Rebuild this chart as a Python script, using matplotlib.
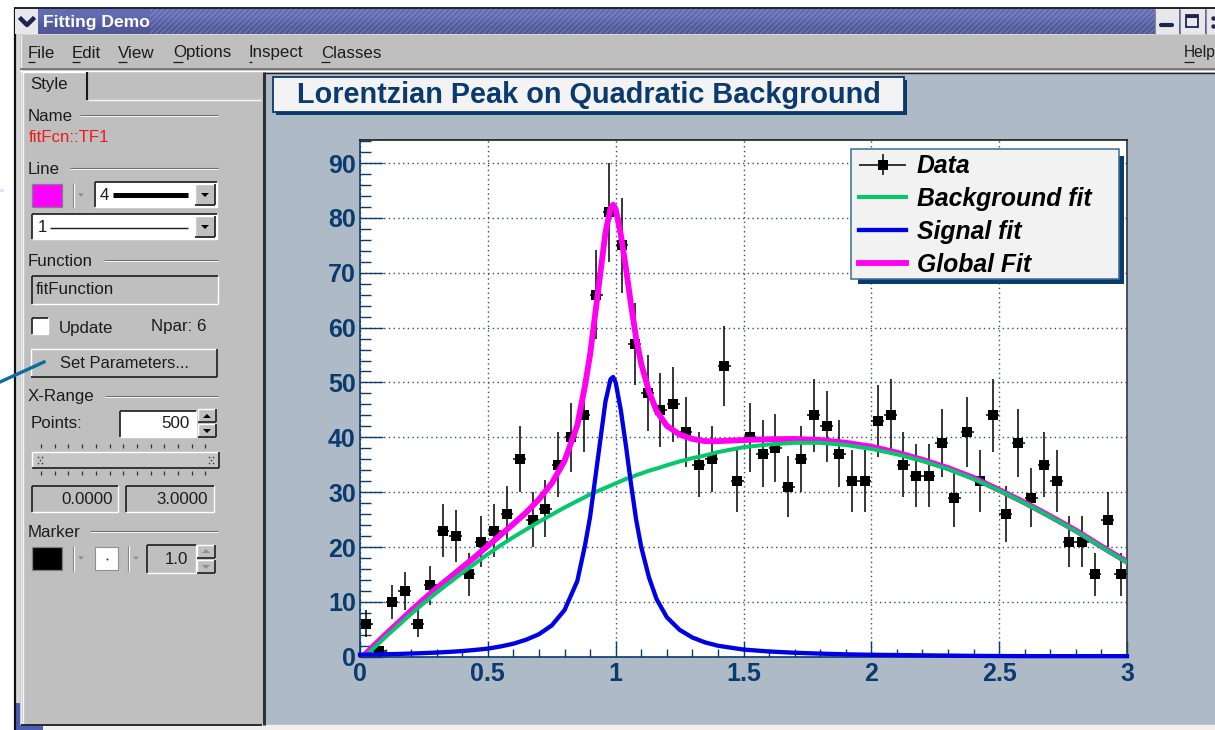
import matplotlib
matplotlib.use("Agg")
import matplotlib.pyplot as plt
from matplotlib.patches import Rectangle, Polygon
from matplotlib.container import ErrorbarContainer
from matplotlib.legend_handler import HandlerErrorbar
from matplotlib.ticker import MultipleLocator
import matplotlib.transforms as mtransforms
import numpy as np

# ------------------------------------------------------------------ data
bin_centers = [0.025, 0.075, 0.125, 0.175, 0.225, 0.275, 0.325, 0.375, 0.425, 0.475,
               0.525, 0.575, 0.625, 0.675, 0.725, 0.775, 0.825, 0.875, 0.925, 0.975,
               1.025, 1.075, 1.125, 1.175, 1.225, 1.275, 1.325, 1.375, 1.425, 1.475,
               1.525, 1.575, 1.625, 1.675, 1.725, 1.775, 1.825, 1.875, 1.925, 1.975,
               2.025, 2.075, 2.125, 2.175, 2.225, 2.275, 2.325, 2.375, 2.425, 2.475,
               2.525, 2.575, 2.625, 2.675, 2.725, 2.775, 2.825, 2.875, 2.925, 2.975]
counts = [6, 1, 10, 12, 6, 13, 23, 22, 15, 21,
          23, 26, 36, 25, 27, 35, 40, 44, 66, 81,
          75, 57, 48, 45, 46, 41, 35, 36, 53, 32,
          40, 37, 38, 31, 36, 44, 42, 37, 32, 32,
          43, 44, 35, 33, 33, 39, 29, 41, 32, 44,
          26, 39, 29, 35, 32, 21, 21, 15, 25, 15]
count_err = [2.45, 1.0, 3.16, 3.46, 2.45, 3.61, 4.80, 4.69, 3.87, 4.58,
             4.80, 5.10, 6.0, 5.0, 5.2, 5.92, 6.32, 6.63, 8.12, 9.0,
             8.66, 7.55, 6.93, 6.71, 6.78, 6.40, 5.92, 6.0, 7.28, 5.66,
             6.32, 6.08, 6.16, 5.57, 6.0, 6.63, 6.48, 6.08, 5.66, 5.66,
             6.56, 6.63, 5.92, 5.74, 5.74, 6.24, 5.39, 6.40, 5.66, 6.63,
             5.10, 6.24, 5.39, 5.92, 5.66, 4.58, 4.58, 3.87, 5.0, 3.87]
bin_half = [0.025] * 60

fit_x = [0, .05, .1, .15, .2, .25, .3, .35, .4, .45, .5, .55, .6, .65, .7, .75, .8, .85,
         .88, .9, .92, .94, .96, .98, .99, 1.0, 1.02, 1.04, 1.06, 1.08, 1.1, 1.13, 1.16,
         1.2, 1.25, 1.3, 1.35, 1.4, 1.5, 1.6, 1.7, 1.8, 1.9, 2.0, 2.1, 2.2, 2.3, 2.4,
         2.5, 2.6, 2.7, 2.8, 2.9, 3.0]
background = [-0.9, 1.4, 3.6, 5.7, 7.8, 9.8, 11.7, 13.5, 15.3, 17.0, 18.7, 20.3, 21.8, 23.2,
              24.6, 25.9, 27.2, 28.4, 29.1, 29.6, 30.0, 30.4, 30.8, 31.2, 31.4, 31.6, 32.0,
              32.4, 32.7, 33.1, 33.4, 33.9, 34.3, 34.9, 35.6, 36.2, 36.7, 37.3, 38.2, 38.7,
              39.0, 39.0, 38.6, 37.9, 36.9, 35.7, 34.2, 32.4, 30.3, 28.0, 25.5, 22.9, 20.0, 17.2]
signal = [.36, .4, .45, .5, .58, .66, .76, .88, 1.03, 1.24, 1.47, 1.87, 2.37, 3.1, 4.1, 5.7,
          8.5, 13.8, 20.3, 25.5, 32.5, 39.5, 46.5, 50.6, 51.0, 50.0, 45.0, 38.5, 31.5, 25.0,
          20.0, 14.5, 10.5, 7.2, 4.9, 3.5, 2.6, 2.0, 1.3, .95, .72, .56, .43, .35, .3, .25,
          .2, .15, .12, .1, .1, .1, .1, .1]
global_fit = [-0.5, 1.8, 4.05, 6.2, 8.4, 10.5, 12.5, 14.4, 16.3, 18.2, 20.2, 22.2, 24.2, 26.3,
              28.7, 31.6, 35.7, 42.2, 49.4, 55.1, 62.5, 69.9, 77.3, 81.8, 82.4, 81.6, 77.0,
              70.9, 64.2, 58.1, 53.4, 48.4, 44.8, 42.1, 40.5, 39.7, 39.3, 39.3, 39.5, 39.65,
              39.7, 39.5, 39.0, 38.3, 37.2, 35.9, 34.4, 32.6, 30.4, 28.1, 25.6, 23.0, 20.1, 17.3]

x_ticks = [0, 0.5, 1, 1.5, 2, 2.5, 3]
x_tick_labels = ["0", "0.5", "1", "1.5", "2", "2.5", "3"]
y_ticks = [0, 10, 20, 30, 40, 50, 60, 70, 80, 90]
chart_title = "Lorentzian Peak on Quadratic Background"
legend_labels = ["Data", "Background fit", "Signal fit", "Global Fit"]

# ------------------------------------------------------------------ styles
W, H = 1215, 730
NAVY = "#0a3a6e"
GUI = "#bfbfbf"
CANVAS = "#aebbc7"
GREEN = "#05c86a"
BLUE = "#0000e6"
MAGENTA = "#ff00f0"
UI_FONT = ["Liberation Sans", "DejaVu Sans"]
plt.rcParams["font.family"] = UI_FONT

fig = plt.figure(figsize=(W / 100, H / 100), dpi=100, facecolor="white")

# ------------------------------------------------------------------ window chrome
bg = fig.add_axes([0, 0, 1, 1], zorder=-1)
bg.set_axis_off()


def rect(x0, y0, x1, y1, fc, ec="none", lw=0, z=1):
    bg.add_patch(Rectangle((x0, y0), x1 - x0, y1 - y0, facecolor=fc, edgecolor=ec, linewidth=lw, zorder=z))


def hline(x0, x1, y, c="#6e6e6e", lw=0.8, z=3):
    bg.plot([x0, x1], [y, y], color=c, lw=lw, zorder=z, solid_capstyle="butt")


def vline(x, y0, y1, c="#6e6e6e", lw=0.8, z=3):
    bg.plot([x, x], [y0, y1], color=c, lw=lw, zorder=z, solid_capstyle="butt")


def txt(x, y, s, size=12.2, c="#1c1c1c", ha="left", weight="normal", z=5):
    return bg.text(x, y + 1, s, fontsize=size, color=c, ha=ha, va="center", fontweight=weight, zorder=z)


def raised(x0, y0, x1, y1, fc=GUI):
    rect(x0, y0, x1, y1, fc)
    hline(x0, x1, y0, "white", 1.0)
    vline(x0, y0, y1, "white", 1.0)
    hline(x0, x1, y1, "#2a2a2a", 1.3)
    vline(x1, y0, y1, "#2a2a2a", 1.3)


def sunken(x0, y0, x1, y1, fc="white"):
    rect(x0, y0, x1, y1, fc)
    hline(x0, x1, y0, "#2a2a2a", 1.3)
    vline(x0, y0, y1, "#2a2a2a", 1.3)
    hline(x0, x1, y1, "white", 1.0)
    vline(x1, y0, y1, "white", 1.0)


def group(label, x_start, y):
    txt(28, y, label)
    hline(x_start, 218, y - 0.5, "#707070", 0.8)
    hline(x_start, 218, y + 0.5, "#f4f4f4", 0.7)


def arrow(cx, cy, up=False, c="black", s=4):
    d = -s if up else s
    bg.add_patch(Polygon([(cx - s, cy - d / 2), (cx + s, cy - d / 2), (cx, cy + d / 2)],
                         closed=True, fc=c, ec="none", zorder=5))


# frame and large areas
rect(14, 8, W, H, "#d6d6d6", z=0)
vline(14.5, 8, H, "#111111", 1.6)
hline(14, W, 8.2, "#111111", 1.3)
rect(14, 703, 20, H, "#4d5cb5", z=1)
rect(14, 725, 43, H, "#4d5cb5", z=1)
rect(43, 725, W, H, "#f0f0f0", z=1)
rect(20, 35, W, 725, GUI, z=1)
vline(20.5, 35, 725, "#eeeeee", 1.0)

# title bar
grad = np.array([[0.0, 0.0], [1.0, 1.0]])
bg.imshow(grad, extent=(38, W, 34, 9), cmap=matplotlib.colors.LinearSegmentedColormap.from_list(
    "t", ["#626cb4", "#505898"]), aspect="auto", zorder=2, interpolation="bilinear")
bg.add_patch(Rectangle((150, 9), 1005, 25, facecolor="none", edgecolor=(0.72, 0.75, 0.92, 0.28),
                       hatch="//////", linewidth=0, zorder=2.5))
rect(15, 9, 38, 34, "#e8e8ec", z=3)
bg.plot([21, 27, 33], [19, 25, 19], color="#1d2450", lw=3.2, zorder=5)
txt(43, 22, "Fitting Demo", size=12.6, c="white", weight="bold")
for x0, x1 in [(1155, 1179), (1180, 1205), (1206, W)]:
    rect(x0, 9, x1, 34, "#e8e8ec", z=3)
    vline(x0, 9, 34, "#8a8a8a", 0.8, z=4)
bg.plot([1161, 1172], [25, 25], color="#1d2450", lw=3, zorder=5, solid_capstyle="round")
bg.add_patch(Rectangle((1186, 15), 12, 12, fc="none", ec="#1d2450", lw=1.3, zorder=5))
hline(1186, 1198, 16, "#1d2450", 2.2, z=5)
bg.scatter([1213, 1213], [18, 26], s=10, c="#1d2450", zorder=5, linewidths=0)

# menu
menu_items = [("File", 28), ("Edit", 72), ("View", 118), ("Options", 173), ("Inspect", 249), ("Classes", 321), ("Help", 1184)]
under = {"File": 7, "Edit": 8, "View": 9, "Options": 10, "Inspect": 3, "Classes": 9, "Help": 10}
for name, x in menu_items:
    txt(x, 52, name, size=11.2 if name == "Help" else 12.2)
    hline(x, x + under[name], 62, "#1c1c1c", 0.9, z=5)
hline(20, W, 69, "#6a6a6a", 1.2)
hline(20, W, 71, "white", 1.0)

# canvas
rect(265, 73, W, 724, CANVAS, z=1)
vline(264, 72, 725, "#303030", 2.2)
hline(265, W, 72.5, "#202020", 1.0)

# left panel and tab
hline(22, 87, 71.5, "white", 1.0)
vline(22.5, 72, 725, "#f5f5f5", 1.0)
vline(87, 72, 100, "#1a1a1a", 1.5)
hline(88, 261, 100, "#f5f5f5", 1.0)
hline(21, 262, 725, "#2a2a2a", 1.4)
txt(30, 84, "Style")

group("Name", 80, 115.5)
txt(29, 137, "fitFcn::TF1", c="#f01818")

group("Line", 70, 168)
rect(32, 184, 62, 207, "#ff00ff", ec="#808080", lw=0.9)
vline(73, 183, 208, "#808080", 0.8)
vline(74, 183, 208, "white", 0.8)
arrow(81, 195, c="#8a8a8a", s=3)
sunken(95, 182, 217, 207)
txt(100, 194, "4")
hline(113, 188, 195, "black", 3.6, z=4)
raised(195, 184, 215, 205)
arrow(205, 195)
sunken(32, 214, 217, 239)
txt(38, 226, "1")
hline(50, 188, 228, "#1c1c1c", 1.0, z=4)
raised(195, 216, 215, 237)
arrow(205, 227)

group("Function", 104, 260.5)
sunken(32, 276, 218, 304, GUI)
txt(36, 289, "fitFunction")

sunken(32, 318, 48, 334)
txt(59, 327, "Update")
txt(151, 326, "Npar: 6")
raised(31, 349, 217, 377)
txt(124, 362, "Set Parameters...", ha="center", size=11.9)
bg.plot([0, 44], [382, 362], color="#0b6d9e", lw=2.4, zorder=6)
bg.plot([0, 2], [190, 190], color="#cfe9f7", lw=2.2, zorder=6)

group("X-Range", 105, 396)
txt(31, 423, "Points:")
sunken(120, 411, 196, 437)
txt(190, 423, "500", ha="right")
raised(198, 409, 216, 422)
raised(198, 424, 216, 437)
arrow(207, 416, up=True)
arrow(207, 431)
slider_ticks = np.arange(41, 212, 13.7)
for xt in slider_ticks:
    vline(xt, 444, 448, "#333333", 0.9)
    vline(xt, 471, 475, "#333333", 0.9)
raised(32, 452, 219, 468, "#c6c6c6")
for cx in (40, 211):
    bg.scatter([cx - 2, cx + 2, cx, cx - 2, cx + 2], [457, 457, 460, 463, 463], s=1.5, c="#444444", zorder=5, linewidths=0)
sunken(32, 486, 118, 512, GUI)
txt(113, 498, "0.0000", ha="right")
sunken(126, 486, 214, 512, GUI)
txt(208, 498, "3.0000", ha="right")

group("Marker", 90, 531.5)
rect(32, 547, 62, 570, "black", ec="#808080", lw=0.9)
for xs in (73, 128):
    vline(xs, 546, 571, "#808080", 0.8)
    vline(xs + 1, 546, 571, "white", 0.8)
    arrow(xs + 8, 558, c="#8a8a8a", s=3)
rect(95, 547, 118, 570, "white", ec="#909090", lw=0.8)
bg.scatter([107], [559], s=2, c="#333333", zorder=5, linewidths=0)
sunken(147, 545, 196, 573, GUI)
txt(188, 558, "1.0", ha="right")
raised(197, 545, 215, 558)
raised(197, 560, 215, 573)
arrow(206, 551, up=True, c="#8f8f8f")
arrow(206, 567, c="#8f8f8f")

# title box
rect(276, 80, 907, 115, NAVY, z=2)
rect(273, 77, 904, 112, "#f3f3f3", ec=NAVY, lw=1.3, z=3)
txt(297, 94, chart_title, size=20.8, c=NAVY, weight="bold")

bg.set_xlim(0, W)
bg.set_ylim(H, 0)

# ------------------------------------------------------------------ chart
AX_L, AX_R, AX_T, AX_B = 360, 1127, 139.5, 656.7
ax = fig.add_axes([AX_L / W, 1 - AX_B / H, (AX_R - AX_L) / W, (AX_B - AX_T) / H], facecolor="white")
ax.set_xlim(0, 3)
ax.set_ylim(0, 94.3)

data_err = ax.errorbar(bin_centers, counts, yerr=count_err, xerr=bin_half, fmt="s", color="black",
                       ms=6.8, mew=0, elinewidth=1.1, capsize=0, zorder=3)
global_line, = ax.plot(fit_x, global_fit, color=MAGENTA, lw=4.2, zorder=4)
bg_line, = ax.plot(fit_x, background, color=GREEN, lw=2.9, zorder=4.2)
sig_line, = ax.plot(fit_x, signal, color=BLUE, lw=3.1, zorder=4.4, clip_on=False)

ax.xaxis.set_major_locator(MultipleLocator(0.5))
ax.xaxis.set_minor_locator(MultipleLocator(0.1))
ax.yaxis.set_major_locator(MultipleLocator(10))
ax.yaxis.set_minor_locator(MultipleLocator(2))
ax.set_xticks(x_ticks)
ax.set_xticklabels(x_tick_labels)
ax.set_yticks(y_ticks)
ax.tick_params(axis="x", which="major", direction="in", length=11.5, width=1.0, color=NAVY, pad=3.5,
               labelsize=18, labelcolor=NAVY)
ax.tick_params(axis="x", which="minor", direction="in", length=5.8, width=1.0, color=NAVY)
ax.tick_params(axis="y", which="major", direction="in", length=16.5, width=1.0, color=NAVY, pad=3,
               labelsize=18, labelcolor=NAVY)
ax.tick_params(axis="y", which="minor", direction="in", length=8, width=1.0, color=NAVY)
for lab in ax.get_xticklabels() + ax.get_yticklabels():
    lab.set_fontweight("bold")
ax.grid(True, which="major", color="#2d4f6b", linestyle=(0, (1, 2.4)), linewidth=1.0)
ax.set_axisbelow(True)
ax.spines["left"].set_color(NAVY)
ax.spines["bottom"].set_color(NAVY)
ax.spines["top"].set_color("#1a1a1a")
ax.spines["right"].set_color("#2a3a4a")
for s in ax.spines.values():
    s.set_linewidth(1.2)

# legend: frame and shadow drawn behind a frameless legend
to_px = mtransforms.Affine2D().scale(1 / W, -1 / H).translate(0, 1) + fig.transFigure
ax.add_patch(Rectangle((858, 156), 266, 128, transform=to_px, facecolor=NAVY, edgecolor="none", zorder=9))
ax.add_patch(Rectangle((851, 149), 268, 130, transform=to_px, facecolor="#f2f2f2", edgecolor="#3c6e8e",
                       linewidth=1.1, zorder=9.5))
leg = ax.legend([data_err, bg_line, sig_line, global_line], legend_labels,
                loc="upper left", bbox_to_anchor=(851, 146), bbox_transform=to_px,
                frameon=False, borderaxespad=0, borderpad=0.33,
                prop={"family": UI_FONT, "weight": "bold", "style": "italic", "size": 17.8},
                handlelength=1.9, handletextpad=0.42, labelspacing=0.36, numpoints=1,
                handler_map={ErrorbarContainer: HandlerErrorbar(xerr_size=0.95, yerr_size=0.42)})
leg.set_zorder(10)

fig.savefig("out.png", dpi=100)
